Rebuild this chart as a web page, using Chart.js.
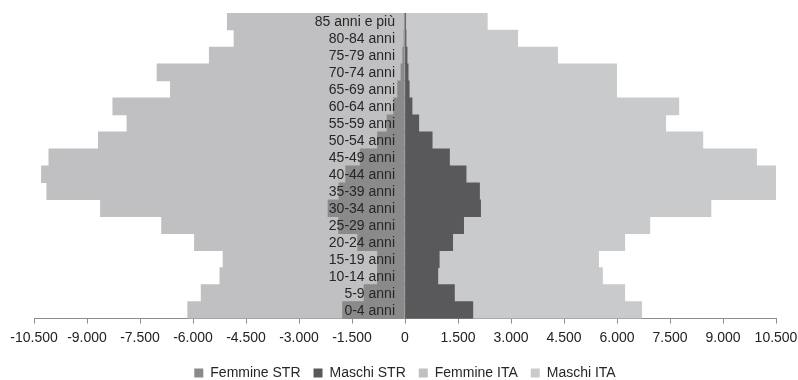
<!DOCTYPE html>
<html>
<head>
<meta charset="utf-8">
<script src="https://cdn.jsdelivr.net/npm/chart.js@4"></script>
<style>
    html, body { margin: 0; padding: 0; background: #fff; }
    #wrap { width: 798px; height: 380px; }
</style>
</head>
<body>
<div id="wrap"><canvas id="pyramidChart"></canvas></div>
<script>
// Age classes, youngest first (axis is reversed so 85+ sits on top)
const ageClasses = ['0-4 anni', '5-9 anni', '10-14 anni', '15-19 anni', '20-24 anni', '25-29 anni',
    '30-34 anni', '35-39 anni', '40-44 anni', '45-49 anni', '50-54 anni', '55-59 anni',
    '60-64 anni', '65-69 anni', '70-74 anni', '75-79 anni', '80-84 anni', '85 anni e più'];

// Women on the negative side, men on the positive side
const femmineSTR = [-1770, -1160, -780, -780, -1340, -1880, -2180, -1870, -1680, -1270, -780, -510, -320, -210, -115, -65, -30, -20];
const maschiSTR = [1920, 1400, 930, 970, 1350, 1660, 2140, 2110, 1730, 1260, 770, 390, 200, 120, 90, 60, 30, 20];
const femmineITA = [-4380, -4610, -4460, -4370, -4620, -5010, -6440, -8270, -8610, -8810, -7900, -7360, -7950, -6430, -6905, -5475, -4810, -5010];
const maschiITA = [4780, 4820, 4660, 4510, 4870, 5270, 6520, 8450, 8860, 8690, 7660, 6990, 7550, 5870, 5900, 4260, 3160, 2310];

const xMin = -10500;
const xMax = 10500;
const xStep = 1500;

function fmtIt(v) {
    const s = Math.abs(v).toString().replace(/\B(?=(\d{3})+(?!\d))/g, '.');
    return (v < 0 ? '-' : '') + s;
}

// Age labels drawn right-aligned just left of the zero line, on top of the bars
const ageLabels = {
    id: 'ageLabels',
    afterDatasetsDraw(chart) {
        const ctx = chart.ctx;
        const xs = chart.scales.x;
        const ys = chart.scales.y;
        const xr = xs.getPixelForValue(0) - 10;
        ctx.save();
        ctx.font = '14px "Liberation Sans", Arial, sans-serif';
        ctx.fillStyle = '#262626';
        ctx.textAlign = 'right';
        ctx.textBaseline = 'middle';
        ageClasses.forEach((lbl, i) => {
            ctx.fillText(lbl, xr, ys.getPixelForTick(i) + 1);
        });
        ctx.restore();
    }
};

new Chart(document.getElementById('pyramidChart').getContext('2d'), {
    type: 'bar',
    data: {
        labels: ageClasses,
        datasets: [
            { label: 'Femmine STR', data: femmineSTR, backgroundColor: '#8a8a8b' },
            { label: 'Maschi STR', data: maschiSTR, backgroundColor: '#59595b' },
            { label: 'Femmine ITA', data: femmineITA, backgroundColor: '#c0c0c2' },
            { label: 'Maschi ITA', data: maschiITA, backgroundColor: '#c9cacc' }
        ]
    },
    options: {
        indexAxis: 'y',
        responsive: true,
        maintainAspectRatio: false,
        animation: false,
        datasets: {
            bar: {
                categoryPercentage: 1,
                barPercentage: 1,
                borderWidth: 0
            }
        },
        layout: {
            padding: { left: 34, right: 22, top: 13, bottom: -10 }
        },
        scales: {
            x: {
                stacked: true,
                min: xMin,
                max: xMax,
                grid: {
                    drawOnChartArea: false,
                    drawTicks: true,
                    tickLength: 5,
                    color: '#8c8c8c'
                },
                border: { color: '#8c8c8c' },
                ticks: {
                    stepSize: xStep,
                    padding: 0,
                    color: '#222',
                    font: { family: '"Liberation Sans", Arial, sans-serif', size: 14, lineHeight: 2.1 },
                    maxRotation: 0,
                    autoSkip: false,
                    callback: (v) => fmtIt(v)
                }
            },
            y: {
                stacked: true,
                reverse: true,
                position: { x: 0 },
                grid: {
                    drawOnChartArea: false,
                    drawTicks: true,
                    tickLength: 3,
                    color: '#9a9a9a'
                },
                border: { color: '#9a9a9a' },
                ticks: { display: false }
            }
        },
        plugins: {
            legend: {
                position: 'bottom',
                labels: {
                    boxWidth: 9,
                    boxHeight: 9,
                    padding: 13,
                    color: '#262626',
                    font: { family: '"Liberation Sans", Arial, sans-serif', size: 14 }
                }
            },
            tooltip: { enabled: false }
        }
    },
    plugins: [ageLabels]
});
</script>
</body>
</html>
